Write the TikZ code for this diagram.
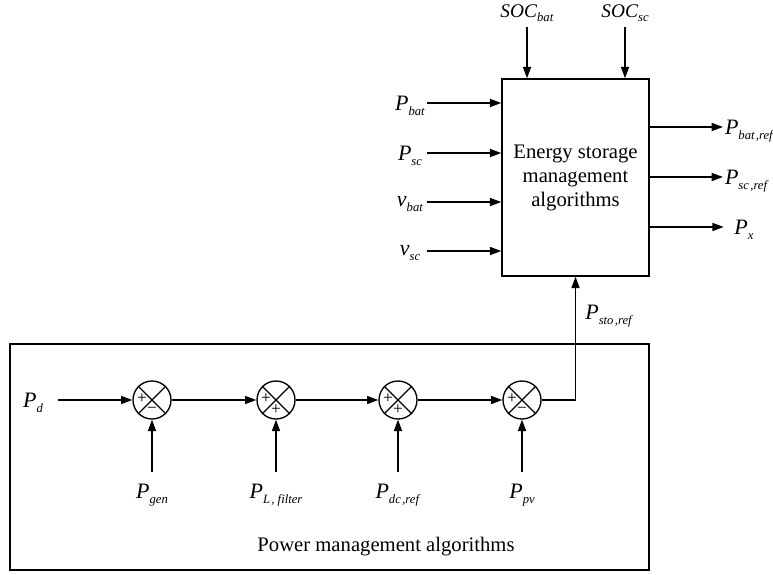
\documentclass[tikz,border=0pt]{standalone}
\usepackage{fontspec}
\setmainfont{Liberation Serif}
\usetikzlibrary{arrows.meta, positioning, calc}
\newcommand{\sgl}[2]{\textit{#1}\raisebox{-0.5ex}[0pt][0pt]{\fontsize{9.5}{10}\selectfont\textit{#2}}}
\tikzset{
  blockbox/.style={draw, line width=1.1pt, inner sep=0pt},
  sumjunc/.style={draw, circle, minimum size=28.5pt, inner sep=0pt, line width=1pt},
  sig/.style={-{Triangle[length=8.5pt,width=6pt]}, line width=1.1pt},
  lbl/.style={inner sep=1pt, outer sep=1.5pt, font=\fontsize{16.5}{19}\selectfont},
  soclbl/.style={lbl, anchor=south, outer sep=6pt, font=\fontsize{14.5}{17}\selectfont},
  sgn/.style={font=\fontsize{13}{13}\selectfont, inner sep=0pt}
}
\begin{document}
\begin{tikzpicture}[x=0.75pt, y=-0.75pt, font=\fontsize{15.5}{18}\selectfont]
  \useasboundingbox (0,0) rectangle (773,574);
  % energy storage block
  \node[blockbox, minimum width=110.25pt, minimum height=147.75pt, align=center] (esma) at (575.5,177.5)
    {Energy storage\\management\\algorithms};
  % power management block
  \node[blockbox, minimum width=479.25pt, minimum height=169.5pt] (pma) at (329.5,457) {};
  \node (pmatxt) at (386,547) {Power management algorithms};

  % inputs on top
  \node[soclbl] (socbat) at (527,27) {\sgl{SOC}{bat}};
  \node[soclbl] (socsc) at (625,27) {\sgl{SOC}{sc}};
  \draw[sig] (socbat.south) -- (socbat.south |- esma.north);
  \draw[sig] (socsc.south) -- (socsc.south |- esma.north);

  % inputs on the left
  \node[lbl, minimum width=25pt, outer sep=0pt] (pbat) at (410,103) {\sgl{P}{bat}};
  \node[lbl, minimum width=25pt, outer sep=0pt] (psc) at (410,153) {\sgl{P}{sc}};
  \node[lbl, minimum width=25pt, outer sep=0pt] (vbat) at (410,202) {\sgl{v}{bat}};
  \node[lbl, minimum width=25pt, outer sep=0pt] (vsc) at (410,251) {\sgl{v}{sc}};
  \foreach \n in {pbat,psc,vbat,vsc}
    \draw[sig] (\n.east) -- (\n.east -| esma.west);

  % outputs
  \node[lbl, anchor=west, inner sep=0.5pt, outer sep=1pt] (pbatref) at (723,127) {\sgl{P}{bat\kern1pt,ref}};
  \node[lbl, anchor=west, inner sep=0.5pt, outer sep=1pt] (pscref) at (723,177) {\sgl{P}{sc\kern1pt,ref}};
  \node[lbl, anchor=west, xshift=6pt] (px) at (723,227) {\sgl{P}{x}};
  \draw[sig] (pbatref.west -| esma.east) -- (pbatref.west);
  \draw[sig] (pscref.west -| esma.east) -- (pscref.west);
  \draw[sig] (px.west -| esma.east) -- ++(74,0);

  % summing junctions
  \foreach \n/\x/\bs in {1/152/−,2/276/+,3/398/+,4/522/−}{
    \node[sumjunc] (s\n) at (\x,400) {};
    \draw[line width=1pt] (s\n.45) -- (s\n.225) (s\n.135) -- (s\n.315);
    \node[sgn] at ($(s\n)+(-10,-1)$) {+};
    \node[sgn] at ($(s\n)+(0,10)$) {\bs};
  }
  \node[lbl] (pd) at (33,400) {\sgl{P}{d}};
  \draw[sig] (pd.east) ++(12,0) -- (s1.west);
  \draw[sig] (s1.east) -- (s2.west);
  \draw[sig] (s2.east) -- (s3.west);
  \draw[sig] (s3.east) -- (s4.west);
  \draw[sig] (s4.east) -| (esma.south);
  \node[lbl, anchor=west] (pstoref) at (582,312) {\sgl{P}{sto\kern1pt,ref}};

  % inputs from below
  \node[lbl, below=39pt of s1, outer sep=8pt] (pgen) {\sgl{P}{gen}};
  \node[lbl, below=39pt of s2, outer sep=8pt] (plf) {\sgl{P}{L\kern1pt, filter}};
  \node[lbl, below=39pt of s3, outer sep=8pt] (pdcref) {\sgl{P}{dc\kern1pt,ref}};
  \node[lbl, below=39pt of s4, outer sep=8pt] (ppv) {\sgl{P}{pv}};
  \draw[sig] (pgen.north) -- (s1.south);
  \draw[sig] (plf.north) -- (s2.south);
  \draw[sig] (pdcref.north) -- (s3.south);
  \draw[sig] (ppv.north) -- (s4.south);
\end{tikzpicture}
\end{document}
